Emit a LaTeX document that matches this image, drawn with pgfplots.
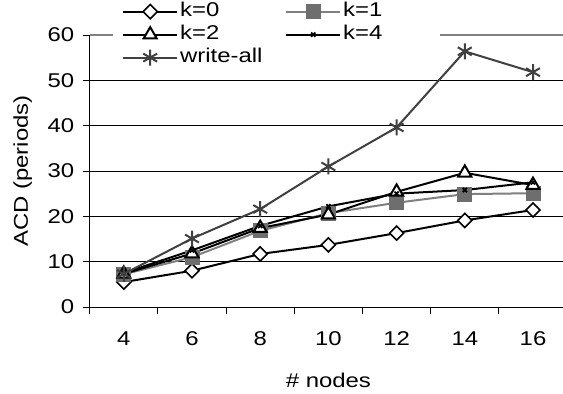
\documentclass[border=0pt]{standalone}
\usepackage{fontspec}
\setmainfont[FakeStretch=1.2]{Liberation Sans}
\usepackage{pgfplots}
\pgfplotsset{compat=1.18}
\definecolor{kgray}{HTML}{808080}
\definecolor{sqgray}{HTML}{6E6E6E}
\definecolor{wgray}{HTML}{404040}
\begin{document}
\begin{tikzpicture}
\useasboundingbox (0,0) rectangle (563bp,394bp);
\clip (0,0) rectangle (563bp,394bp);
\begin{axis}[
 at={(89.7bp,87bp)}, anchor=south west,
 scale only axis, width=477.4bp, height=272bp,
 xmin=-0.5, xmax=6.5, ymin=0, ymax=60,
 axis x line=bottom, axis y line=left,
 axis line style={-, black, line width=0.9bp},
 xtick={0,...,6}, xticklabels={4,6,8,10,12,14,16},
 major x tick style={draw=none},
 minor xtick={-0.5,0.5,...,6.5},
 ytick={0,10,...,50}, extra y ticks={60},
 extra y tick style={grid style={kgray, line width=1.4bp}},
 tick align=outside, major tick length=7bp, minor tick length=7bp,
 tick style={black, line width=0.9bp},
 ymajorgrids, grid style={black, line width=0.9bp},
 /pgf/number format/assume math mode=true,
 tick label style={font=\fontsize{20}{24}\selectfont},
 xticklabel style={yshift=-14bp},
 yticklabel style={xshift=-5bp},
 xlabel={\# nodes}, ylabel={ACD (periods)},
 every axis x label/.style={at={(rel axis cs:0.5,0)}, anchor=center, yshift=-73bp, font=\fontsize{20}{24}\selectfont},
 every axis y label/.style={at={(rel axis cs:0,0.5)}, xshift=-67bp, anchor=center, rotate=90, font=\fontsize{20}{24}\selectfont},
 legend columns=2, legend cell align=left,
 legend style={at={(0.0488,1.14)}, anchor=north west, draw=none, fill=white,
   font=\fontsize{20}{24}\selectfont, inner xsep=9bp, inner ysep=3bp,
   row sep=0pt, column sep=0pt,
   nodes={inner xsep=2bp, inner ysep=1bp, text height=15bp, text depth=6bp, text width=86bp, align=left},
   /tikz/every even column/.append style={column sep=17bp}},
 legend image code/.code={\draw[mark repeat=2,mark phase=2] plot coordinates {(0bp,0bp) (27bp,0bp) (54bp,0bp)};},
]
\addplot[black, line width=2bp, mark=square*, mark size=5bp, mark options={rotate=45, fill=white, line width=1.6bp}]
 coordinates {(0,5.5) (1,8.0) (2,11.7) (3,13.7) (4,16.3) (5,19.1) (6,21.4)};
\addlegendentry{k=0}
\addplot[kgray, line width=2bp, mark=square*, mark size=6.5bp, mark options={sqgray, fill=sqgray}]
 coordinates {(0,7.2) (1,11.0) (2,16.8) (3,20.7) (4,23.0) (5,24.9) (6,25.1)};
\addlegendentry{k=1}
\addplot[black, line width=2bp, mark=triangle*, mark size=7.5bp, mark options={fill=white, line width=2bp}]
 coordinates {(0,7.3) (1,11.8) (2,17.4) (3,20.4) (4,25.4) (5,29.6) (6,26.9)};
\addlegendentry{k=2}
\addplot[black, line width=2bp, mark=x, mark size=3bp, mark options={line width=1.8bp}]
 coordinates {(0,7.5) (1,12.5) (2,17.9) (3,22.2) (4,25.0) (5,25.8) (6,27.5)};
\addlegendentry{k=4}
\addplot[wgray, line width=2bp, mark=asterisk, mark size=8bp, mark options={line width=2bp}]
 coordinates {(0,7.3) (1,15.1) (2,21.6) (3,31.0) (4,39.6) (5,56.4) (6,51.8)};
\addlegendentry{write-all}
\end{axis}
\end{tikzpicture}
\end{document}
